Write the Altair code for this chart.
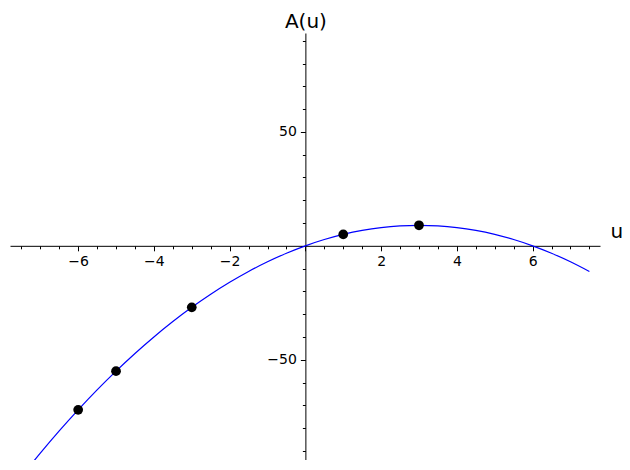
import altair as alt
import pandas as pd

# Curve values (u, A(u))
u_curve = [-7.5, -7.0, -6.5, -6.0, -5.5, -5.0, -4.5, -4.0, -3.5, -3.0, -2.5, -2.0, -1.5, -1.0, -0.5,
           0.0, 0.5, 1.0, 1.5, 2.0, 2.5, 3.0, 3.5, 4.0, 4.5, 5.0, 5.5, 6.0, 6.5, 7.0, 7.5]
a_curve = [-101.25, -91.0, -81.25, -72.0, -63.25, -55.0, -47.25, -40.0, -33.25, -27.0, -21.25, -16.0,
           -11.25, -7.0, -3.25, 0.0, 2.75, 5.0, 6.75, 8.0, 8.75, 9.0, 8.75, 8.0, 6.75, 5.0, 2.75, 0.0,
           -3.25, -7.0, -11.25]

# Marked points
u_pts = [-6, -5, -3, 1, 3]
a_pts = [-72, -55, -27, 5, 9]

# Tick positions
x_ticks = [-7.5, -7, -6.5, -6, -5.5, -5, -4.5, -4, -3.5, -3, -2.5, -2, -1.5, -1, -0.5,
           0, 0.5, 1, 1.5, 2, 2.5, 3, 3.5, 4, 4.5, 5, 5.5, 6, 6.5, 7, 7.5]
y_ticks = [-90, -80, -70, -60, -50, -40, -30, -20, -10, 0, 10, 20, 30, 40, 50, 60, 70, 80, 90]

x_domain = [-7.8, 7.78]
y_domain = [-94.0, 93.4]

W, H = 590, 427
x0 = W * (0 - x_domain[0]) / (x_domain[1] - x_domain[0])
y0 = H * (y_domain[1] - 0) / (y_domain[1] - y_domain[0])

curve_df = pd.DataFrame({"u": u_curve, "A": a_curve})
pts_df = pd.DataFrame({"u": u_pts, "A": a_pts})

FONT = "DejaVu Sans"

x_axis = alt.Axis(
    orient="bottom",
    offset=-(H - y0),
    values=x_ticks,
    grid=False,
    domainColor="black",
    domainWidth=1,
    tickColor="black",
    tickWidth=1,
    tickSize={"condition": {"test": "datum.value % 2 === 0", "value": 5}, "value": 3},
    labelExpr="(datum.value % 2 === 0 && datum.value !== 0) ? format(datum.value, 'd') : ''",
    labelFont=FONT,
    labelFontSize=14,
    labelColor="black",
    labelPadding=4,
    labelFlush=False,
    labelOverlap=False,
    labelBaseline="top",
    title="u",
    titleFont=FONT,
    titleFontSize=20,
    titleFontWeight="normal",
    titleColor="black",
    titleAngle=0,
    titleAlign="left",
    titleBaseline="alphabetic",
    titleX=600,
    titleY=-8,
)

y_axis = alt.Axis(
    orient="left",
    offset=-x0,
    values=y_ticks,
    format="d",
    grid=False,
    domainColor="black",
    domainWidth=1,
    tickColor="black",
    tickWidth=1,
    tickSize={"condition": {"test": "datum.value % 50 === 0", "value": 5}, "value": 3},
    labelExpr="(datum.value % 50 === 0 && datum.value !== 0) ? datum.label : ''",
    labelFont=FONT,
    labelFontSize=14,
    labelColor="black",
    labelPadding=4,
    labelFlush=False,
    labelOverlap=False,
    title="A(u)",
    titleFont=FONT,
    titleFontSize=20,
    titleFontWeight="normal",
    titleColor="black",
    titleAngle=0,
    titleAlign="center",
    titleBaseline="alphabetic",
    titleX=0,
    titleY=-6,
)

x_scale = alt.Scale(domain=x_domain, nice=False, zero=False)
y_scale = alt.Scale(domain=y_domain, nice=False, zero=False)

line = alt.Chart(curve_df).mark_line(
    color="#0000ff", strokeWidth=1.2, interpolate="monotone", clip=True
).encode(
    x=alt.X("u:Q", scale=x_scale, axis=x_axis),
    y=alt.Y("A:Q", scale=y_scale, axis=y_axis),
)

points = alt.Chart(pts_df).mark_circle(
    color="#000000", size=95, opacity=1
).encode(
    x=alt.X("u:Q", scale=x_scale, axis=x_axis),
    y=alt.Y("A:Q", scale=y_scale, axis=y_axis),
)

chart = alt.layer(line, points).properties(
    width=W,
    height=H,
    background="white",
    autosize=alt.AutoSizeParams(type="none"),
    padding={"left": 2, "top": 25, "right": 22, "bottom": 0},
).configure_view(stroke=None)

chart.save("out.html", embed_options={"renderer": "svg", "actions": False})
